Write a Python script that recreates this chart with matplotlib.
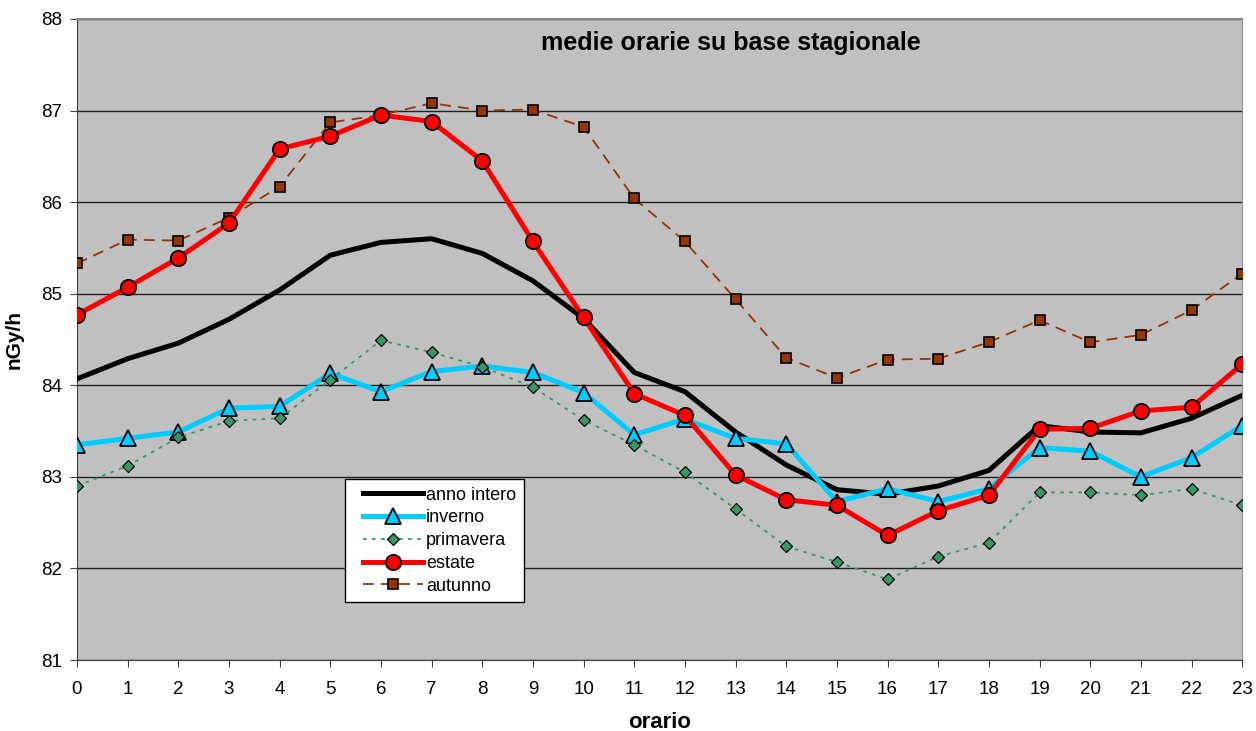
import matplotlib
matplotlib.use("Agg")
import matplotlib.pyplot as plt
from matplotlib.lines import Line2D
from matplotlib.legend_handler import HandlerLine2D

plt.rcParams["font.family"] = ["Liberation Sans", "DejaVu Sans"]

ore = list(range(24))

anno_intero = [84.07, 84.29, 84.46, 84.72, 85.04, 85.42, 85.56, 85.60, 85.44, 85.14,
               84.73, 84.14, 83.93, 83.49, 83.13, 82.86, 82.81, 82.90, 83.07, 83.56,
               83.49, 83.48, 83.64, 83.89]
inverno = [83.35, 83.42, 83.49, 83.75, 83.77, 84.13, 83.93, 84.15, 84.21, 84.14,
           83.92, 83.46, 83.63, 83.42, 83.36, 82.73, 82.87, 82.73, 82.87, 83.32,
           83.28, 83.00, 83.21, 83.56]
primavera = [82.90, 83.12, 83.43, 83.61, 83.64, 84.06, 84.49, 84.36, 84.20, 83.98,
             83.62, 83.35, 83.05, 82.65, 82.24, 82.07, 81.88, 82.13, 82.28, 82.83,
             82.83, 82.80, 82.87, 82.69]
estate = [84.77, 85.07, 85.39, 85.77, 86.58, 86.72, 86.95, 86.88, 86.45, 85.57,
          84.74, 83.91, 83.67, 83.02, 82.75, 82.69, 82.36, 82.63, 82.80, 83.52,
          83.53, 83.72, 83.76, 84.23]
autunno = [85.33, 85.59, 85.58, 85.83, 86.17, 86.87, 86.95, 87.08, 87.00, 87.01,
           86.82, 86.04, 85.57, 84.94, 84.30, 84.08, 84.28, 84.29, 84.47, 84.71,
           84.47, 84.55, 84.82, 85.22]

fig = plt.figure(figsize=(12.56, 7.31), dpi=100)
ax = fig.add_axes([0.0613, 0.0971, 0.9277, 0.877])
ax.set_facecolor("#C0C0C0")

ax.plot(ore, anno_intero, color="black", lw=3.6, label="anno intero", zorder=3)
ax.plot(ore, inverno, color="#00CCFF", lw=3.6, marker="^", ms=11,
        mfc="#00CCFF", mec="black", mew=1.3, label="inverno", zorder=3)
ax.plot(ore, primavera, color="#339966", lw=1.3, ls=(0, (2, 3)), marker="D", ms=6,
        mfc="#339966", mec="black", mew=0.9, label="primavera", zorder=3)
ax.plot(ore, estate, color="#FF0000", lw=3.6, marker="o", ms=11,
        mfc="#FF0000", mec="black", mew=1.3, label="estate", zorder=4)
ax.plot(ore, autunno, color="#993300", lw=1.3, ls=(0, (6, 4)), marker="s", ms=7,
        mfc="#993300", mec="black", mew=1.2, label="autunno", zorder=3)

ax.set_xlim(0, 23)
ax.set_ylim(81, 88)
ax.set_xticks(ore)
ax.set_yticks(range(81, 89))
ax.tick_params(labelsize=13.5, length=5, color="#404040")
ax.tick_params(axis="x", pad=10)
ax.tick_params(axis="y", pad=6)
ax.grid(axis="y", color="#202020", lw=1)
ax.set_axisbelow(True)

ax.spines["top"].set_color("#888888")
ax.spines["top"].set_linewidth(1.5)
ax.spines["left"].set_color("#404040")
ax.spines["bottom"].set_color("#404040")
ax.spines["right"].set_color("#909090")

ax.set_xlabel("orario", fontsize=16, fontweight="bold", labelpad=10)
ax.set_ylabel("nGy/h", fontsize=15, fontweight="bold", labelpad=12)
ax.text(0.561, 0.981, "medie orarie su base stagionale", transform=ax.transAxes,
        ha="center", va="top", fontsize=18, fontweight="bold")

leg = ax.legend(loc="lower left", bbox_to_anchor=(0.230, 0.0905), fontsize=13,
                frameon=True, fancybox=False, edgecolor="black", framealpha=1,
                handlelength=3.9, handletextpad=0.2, labelspacing=0.32,
                borderpad=0.4, borderaxespad=0,
                handler_map={Line2D: HandlerLine2D(xpad=0.6)})
leg.get_frame().set_linewidth(1)

fig.savefig("out.png", dpi=100)
